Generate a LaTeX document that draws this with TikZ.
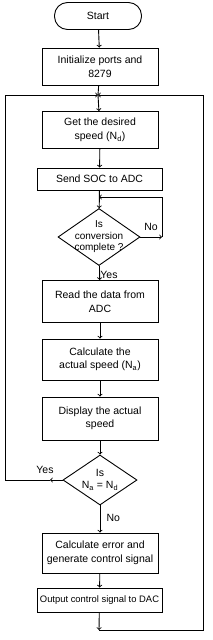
\documentclass[tikz,border=0pt]{standalone}
\usepackage{fontspec}
\setmainfont{Liberation Sans}
\usetikzlibrary{shapes.geometric}
\begin{document}
\begin{tikzpicture}[
x=1pt,y=-1pt,
every node/.style={font=\fontsize{10.5}{13.5}\selectfont},
term/.style={draw,line width=0.9pt,rounded corners=13pt,minimum width=87pt,minimum height=27pt},
block/.style={draw,line width=0.9pt,align=center,inner sep=0pt,minimum width=116pt},
wide/.style={block,minimum width=125pt},
decision/.style={draw,diamond,line width=0.9pt,inner sep=0pt},
flow/.style={line width=0.9pt}
]
\useasboundingbox (0,0) rectangle (212,640);
\node[term] (start) at (98,16) {Start};
\node[block,minimum height=37pt] (init) at (100,66.5) {Initialize ports and\\8279};
\coordinate (j) at (98,95);
\node[block,minimum height=37pt] (get) at (100,130) {Get the desired\\speed (N\textsubscript{d})};
\node[wide,minimum height=22pt] (send) at (99.5,179) {Send SOC to ADC};
\coordinate (k) at (99,197);
\node[decision,minimum width=82pt,minimum height=57pt,
    label={[align=center,font=\fontsize{10}{11.5}\selectfont]center:Is\\conversion\\complete ?}] (d1) at (99,237) {};
\coordinate (nr) at (162,237);
\node[block,minimum height=42pt] (read) at (100,301.5) {Read the data from\\ADC};
\node[block,minimum height=41pt] (calc) at (100,359.5) {Calculate the\\actual speed (N\textsubscript{a})};
\node[block,minimum height=43pt] (disp) at (100,418.5) {Display the actual\\speed};
\node[decision,minimum width=74pt,minimum height=50pt,
    label={[align=center,font=\fontsize{10.5}{12}\selectfont]center:Is\\N\textsubscript{a} = N\textsubscript{d}}] (d2) at (100,480) {};
\coordinate (ya) at (50,480);
\coordinate (yl) at (5,480);
\node[block,minimum height=40pt] (err) at (100,553) {Calculate error and\\generate control signal};
\node[wide,minimum height=24pt,font=\fontsize{9.4}{12}\selectfont] (out) at (99.5,600) {Output control signal to DAC};
\coordinate (b) at (99,630);
\coordinate (br) at (203,630);
% labels
\node[anchor=south] (yes1) at (109,282) {Yes};
\node[anchor=south] (no1) at (151,234) {No};
\node[anchor=south] (yes2) at (45,477) {Yes};
\node[anchor=west] (no2) at (103,518) {No};
% flow lines
\draw[flow,->] (start) -- (init);
\draw[flow] (init) -- (j);
\draw[flow,->] (j) -- (get);
\draw[flow,->] (get) -- (send);
\draw[flow,->] (send) -- (d1);
\draw[flow,->] (d1.east) -- (nr);
\draw[flow,->] (nr) |- (k);
\draw[flow,->] (d1) -- (read);
\draw[flow,->] (read) -- (calc);
\draw[flow,->] (calc) -- (disp);
\draw[flow,->] (disp) -- (d2);
\draw[flow,->] (d2.west) -- (ya);
\draw[flow,->] (ya) -- (yl) |- (j);
\draw[flow,->] (d2) -- (err);
\draw[flow,->] (err) -- (out);
\draw[flow,->] (out) -- (b);
\draw[flow,->] (b) -- (br) |- (j);
\end{tikzpicture}
\end{document}
